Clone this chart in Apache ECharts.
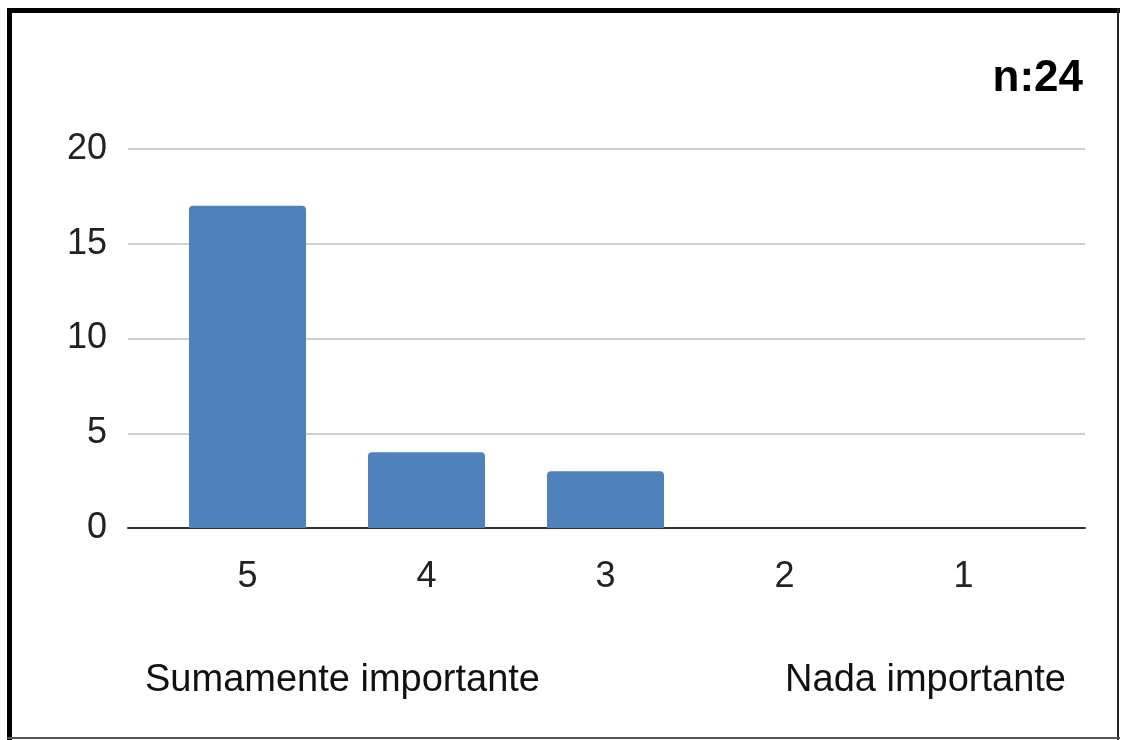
<!DOCTYPE html>
<html>
<head>
<meta charset="utf-8">
<script src="https://cdn.jsdelivr.net/npm/echarts@6/dist/echarts.min.js"></script>
<style>
  html, body { margin: 0; padding: 0; background: #fff; }
  #chart { width: 1121px; height: 740px; }
</style>
</head>
<body>
<div id="chart"></div>
<script>
const categories = ['5', '4', '3', '2', '1'];
const counts = [17, 4, 3, 0, 0];
const yTicks = { min: 0, max: 20, interval: 5 };
const sampleLabel = 'n:24';
const leftNote = 'Sumamente importante';
const rightNote = 'Nada importante';

const FONT = '"Liberation Sans", Arial, Helvetica, sans-serif';
const chart = echarts.init(document.getElementById('chart'), null, { renderer: 'canvas' });

chart.setOption({
  backgroundColor: '#ffffff',
  animation: false,
  textStyle: { fontFamily: FONT },
  grid: [
    { left: 128, right: 36, top: 149, bottom: 212 },
    { left: 158, right: 68, top: 149, bottom: 212 }
  ],
  xAxis: [
    {
      type: 'category', gridIndex: 0, data: categories,
      axisLine: { show: true, lineStyle: { color: '#333333', width: 2 } },
      axisTick: { show: false }, axisLabel: { show: false }, splitLine: { show: false }
    },
    {
      type: 'category', gridIndex: 1, data: categories,
      axisLine: { show: false }, axisTick: { show: false },
      axisLabel: { show: true, fontSize: 36, color: '#222222', margin: 31, fontFamily: FONT }
    }
  ],
  yAxis: [
    {
      type: 'value', gridIndex: 0, min: yTicks.min, max: yTicks.max, interval: yTicks.interval,
      axisLine: { show: false }, axisTick: { show: false },
      axisLabel: { fontSize: 36, color: '#222222', margin: 21, fontFamily: FONT },
      splitLine: { show: true, lineStyle: { color: '#d0d0d0', width: 2 } }
    },
    {
      type: 'value', gridIndex: 1, min: yTicks.min, max: yTicks.max, interval: yTicks.interval,
      show: false, splitLine: { show: false }
    }
  ],
  series: [
    {
      type: 'bar', xAxisIndex: 1, yAxisIndex: 1, data: counts,
      barWidth: 117,
      itemStyle: { color: '#4f81bd', borderRadius: [4, 4, 0, 0] }
    }
  ],
  graphic: [
    { type: 'line', shape: { x1: 9.5, y1: 8, x2: 9.5, y2: 740 }, style: { stroke: '#000', lineWidth: 5 } },
    { type: 'line', shape: { x1: 7, y1: 10.5, x2: 1120, y2: 10.5 }, style: { stroke: '#000', lineWidth: 5 } },
    { type: 'line', shape: { x1: 1118, y1: 8, x2: 1118, y2: 740 }, style: { stroke: '#222', lineWidth: 2 } },
    { type: 'line', shape: { x1: 7, y1: 738, x2: 1120, y2: 738 }, style: { stroke: '#555', lineWidth: 2 } },
    {
      type: 'text', right: 38, top: 57,
      style: { text: sampleLabel, font: 'bold 44px ' + FONT, fill: '#000' }
    },
    {
      type: 'text', left: 145, top: 662,
      style: { text: leftNote, font: '38px ' + FONT, fill: '#111' }
    },
    {
      type: 'text', right: 55, top: 662,
      style: { text: rightNote, font: '38px ' + FONT, fill: '#111' }
    }
  ]
});
</script>
</body>
</html>
